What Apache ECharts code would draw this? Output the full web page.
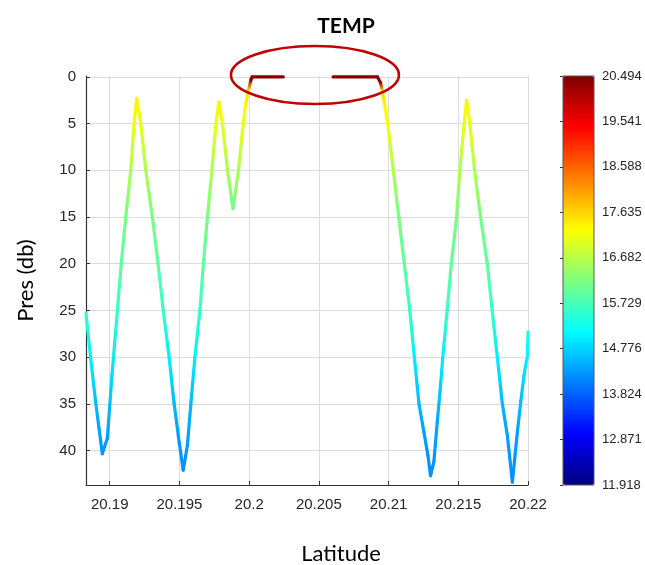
<!DOCTYPE html>
<html><head><meta charset="utf-8">
<script src="https://cdn.jsdelivr.net/npm/echarts@6/dist/echarts.min.js"></script>
<style>html,body{margin:0;padding:0;background:#fff}#c{width:645px;height:565px}</style>
</head><body><div id="c"></div>
<script>
// Track before the surface gap
const latA = [20.1883, 20.18864, 20.18899, 20.18923, 20.18947, 20.18983, 20.19016, 20.19055, 20.19083, 20.19115,
  20.19151, 20.19175, 20.19194, 20.19223, 20.19259, 20.19306, 20.19347, 20.19384, 20.19426, 20.19462,
  20.19498, 20.19527, 20.19557, 20.19582, 20.19611, 20.19647, 20.19672, 20.19701, 20.19733, 20.19762,
  20.19783, 20.19809, 20.19845, 20.19884, 20.19924, 20.19948, 20.19972, 20.19996, 20.20013, 20.20022, 20.20245];
const presA = [25.3, 30.2, 34.8, 37.6, 40.35, 38.7, 32.0, 25.0, 20.0, 15.0,
  10.0, 5.0, 2.3, 5.0, 10.0, 15.0, 20.0, 25.0, 30.0, 35.0,
  39.1, 42.1, 39.5, 35.0, 30.0, 25.0, 20.0, 15.0, 10.0, 5.0,
  2.7, 5.0, 10.0, 14.1, 10.0, 6.4, 3.2, 1.4, 0.3, 0.0, 0.0];
const tempA = [15.55, 15.0, 14.6, 14.4, 14.25, 14.3, 14.85, 15.6, 15.95, 16.15,
  16.6, 17.1, 17.35, 17.1, 16.6, 16.15, 15.95, 15.6, 15.0, 14.55,
  14.3, 14.2, 14.3, 14.55, 15.0, 15.6, 15.95, 16.15, 16.6, 17.1,
  17.35, 17.1, 16.6, 16.1, 16.6, 17.0, 17.3, 17.6, 20.3, 20.4, 20.4];
// Track after the surface gap
const latB = [20.20602, 20.20920, 20.20942, 20.20956, 20.20978, 20.20994, 20.21034, 20.21073, 20.21113, 20.21152,
  20.21185, 20.21218, 20.21253, 20.21282, 20.21301, 20.21325, 20.21349, 20.21369, 20.21389, 20.21420,
  20.21450, 20.21488, 20.21511, 20.21542, 20.21560, 20.21583, 20.21617, 20.21660, 20.21708, 20.21743,
  20.21780, 20.21816, 20.21852, 20.21888, 20.21924, 20.21948, 20.21971, 20.21996, 20.22000];
const presB = [0, 0, 0.6, 1.5, 3.6, 5, 10, 15, 20, 25,
  30, 35, 38, 40.5, 42.7, 41.2, 37, 33.7, 30, 25,
  20, 15, 10, 5, 2.5, 5, 10, 15, 20, 25,
  30, 35, 38.4, 43.4, 38, 34.8, 32, 29.8, 27.3];
const tempB = [20.4, 20.4, 20.2, 17.6, 17.3, 17.2, 16.6, 16.15, 15.95, 15.6,
  15.0, 14.55, 14.35, 14.25, 14.2, 14.25, 14.4, 14.7, 15.0, 15.6,
  15.95, 16.15, 16.6, 17.1, 17.35, 17.1, 16.6, 16.15, 15.95, 15.6,
  15.0, 14.55, 14.35, 14.2, 14.35, 14.6, 14.85, 15.05, 15.35];

const xTicks = [20.19, 20.195, 20.2, 20.205, 20.21, 20.215, 20.22];
const yTicks = [0, 5, 10, 15, 20, 25, 30, 35, 40];
const cbTicks = ['11.918', '12.871', '13.824', '14.776', '15.729', '16.682', '17.635', '18.588', '19.541', '20.494'];
const tempMin = 11.918, tempMax = 20.494;
const xMin = 20.1883, xMax = 20.22, yMin = -0.1, yMax = 43.7;

const jet = ['#00007f', '#0000ff', '#007fff', '#00ffff', '#7fff7f', '#ffff00', '#ff7f00', '#ff0000', '#7f0000'];

function zip(a, b, c) { return a.map((v, i) => [v, b[i], c[i]]); }

function renderSeg(params, api) {
  const i = params.dataIndexInside;
  if (i >= params.dataInsideLength - 1) return null;
  const p1 = api.coord([api.value(0, i), api.value(1, i)]);
  const p2 = api.coord([api.value(0, i + 1), api.value(1, i + 1)]);
  const c1 = api.visual('color', i), c2 = api.visual('color', i + 1);
  return {
    type: 'line', silent: true,
    shape: { x1: p1[0], y1: p1[1], x2: p2[0], y2: p2[1] },
    style: {
      stroke: { type: 'linear', x: p1[0], y: p1[1], x2: p2[0] + 0.001, y2: p2[1] + 0.001, global: true,
        colorStops: [{ offset: 0, color: c1 }, { offset: 1, color: c2 }] },
      lineWidth: 3.2, lineCap: 'round', fill: null
    }
  };
}

const axisCol = '#333333';
const labelFont = 'Liberation Sans';
const nameFont = 'Lato';
const chart = echarts.init(document.getElementById('c'), null, { renderer: 'canvas' });
const baseGraphic = [
  { type: 'text', x: 346, y: 26, silent: true,
    style: { text: 'TEMP', font: 'bold 21px Lato', fill: '#000', textAlign: 'center', textVerticalAlign: 'middle' } },
  { type: 'rect', silent: true, z: 50, shape: { x: 563, y: 76, width: 31, height: 409 },
    style: { fill: null, stroke: '#555555', lineWidth: 1 } }
];
chart.setOption({
  animation: false,
  backgroundColor: '#ffffff',
  grid: [
    { left: 86, right: 117, top: 76, bottom: 80, outerBoundsMode: 'none', containLabel: false },
    { left: 563, width: 31, top: 76, height: 409, outerBoundsMode: 'none', containLabel: false }
  ],
  xAxis: [{
    type: 'value', min: xMin, max: xMax,
    name: 'Latitude', nameLocation: 'middle', nameGap: 58,
    nameTextStyle: { fontSize: 22, fontFamily: nameFont, color: '#000', padding: [0, 0, 0, 68] },
    axisLine: { show: true, onZero: false, lineStyle: { color: axisCol, width: 1.2 } },
    axisTick: { show: true, inside: true, length: 4, customValues: xTicks, lineStyle: { color: axisCol } },
    axisLabel: { customValues: xTicks, fontSize: 15, fontFamily: labelFont, color: '#262626', margin: 12,
      formatter: v => String(+v.toFixed(3)) },
    splitLine: { show: true, lineStyle: { color: '#dcdcdc', width: 1 } }
  }, {
    gridIndex: 1, type: 'value', show: false, min: 0, max: 1
  }],
  yAxis: [{
    type: 'value', inverse: true, min: yMin, max: yMax,
    name: 'Pres (db)', nameLocation: 'middle', nameGap: 49,
    nameTextStyle: { fontSize: 22, fontFamily: nameFont, color: '#000' },
    axisLine: { show: true, onZero: false, lineStyle: { color: axisCol, width: 1.2 } },
    axisTick: { show: true, inside: true, length: 4, customValues: yTicks, lineStyle: { color: axisCol } },
    axisLabel: { customValues: yTicks, fontSize: 15, fontFamily: labelFont, color: '#262626', margin: 10 },
    splitLine: { show: true, lineStyle: { color: '#dcdcdc', width: 1 } }
  }, {
    gridIndex: 1, type: 'category', data: cbTicks, boundaryGap: false, position: 'right',
    axisLine: { show: false },
    axisTick: { show: true, inside: true, length: 3, lineStyle: { color: axisCol } },
    axisLabel: { fontSize: 13, fontFamily: labelFont, color: '#262626', margin: 8 },
    splitLine: { show: false }
  }],
  visualMap: {
    type: 'continuous', min: tempMin, max: tempMax, dimension: 2, seriesIndex: [0, 1],
    inRange: { color: jet }, calculable: false, hoverLink: false, show: true,
    left: 563, top: 76, itemWidth: 31, itemHeight: 409, padding: 0, text: null, showLabel: false
  },
  series: [
    { type: 'custom', name: 'A', xAxisIndex: 0, yAxisIndex: 0, data: zip(latA, presA, tempA),
      encode: { x: 0, y: 1 }, renderItem: renderSeg, clip: false, z: 3 },
    { type: 'custom', name: 'B', xAxisIndex: 0, yAxisIndex: 0, data: zip(latB, presB, tempB),
      encode: { x: 0, y: 1 }, renderItem: renderSeg, clip: false, z: 3 }
  ],
  graphic: baseGraphic
});

// annotation ellipse placed in data coordinates around the surface segments
const ctr = chart.convertToPixel({ gridIndex: 0 }, [20.20472, 0]);
chart.setOption({
  graphic: baseGraphic.concat([
    { type: 'ellipse', silent: true, z: 60, shape: { cx: ctr[0], cy: ctr[1] - 2, rx: 84, ry: 29 },
      style: { fill: null, stroke: '#c00000', lineWidth: 2.6 } }
  ])
});
</script>
</body></html>
